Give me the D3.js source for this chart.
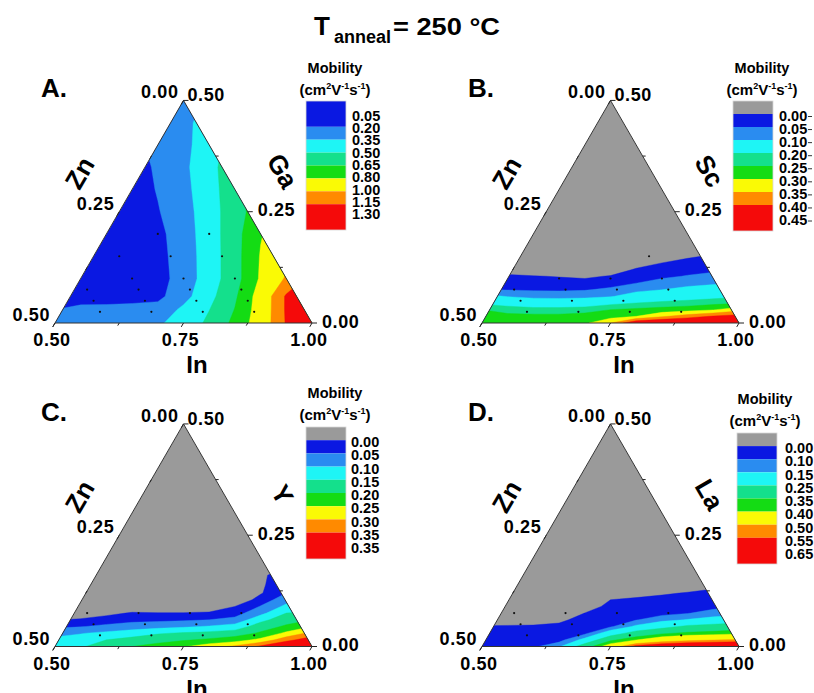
<!DOCTYPE html>
<html><head><meta charset="utf-8">
<script src="https://cdn.jsdelivr.net/npm/d3@7"></script>
<style>
body{margin:0;background:#fff;}
svg{display:block;}
text{font-family:"Liberation Sans",Arial,Helvetica,sans-serif;font-weight:bold;fill:#000;}
</style></head><body>
<svg id="chart" width="814" height="693"></svg>
<script>
// ================= DATA =================
// grid columns: horizontal position across the triangle base (0 = In 0.50 corner, 1 = In 1.00 corner)
const uCols = [0, 0.1, 0.2, 0.3, 0.4, 0.5, 0.6, 0.7, 0.8, 0.9, 1.0];

// ---- Panel A : In-Zn-Ga ----
const rowsA = [0, 0.06, 0.12, 0.2, 0.3, 0.4, 0.5, 0.6, 0.7, 0.8, 0.9, 1.0];
const gridA = [
  [0.26,0.27,0.28,0.30,0.33,0.41,0.53,0.688,0.891,1.164,1.35],
  [0.20,0.245,0.25,0.26,0.26,0.38,0.497,0.655,0.88,1.17,1.35],
  [0.12,0.12,0.12,0.13,0.16,0.30,0.455,0.626,0.875,1.17,1.35],
  [0.10,0.10,0.10,0.11,0.14,0.268,0.424,0.59,0.82,1.02,1.2],
  [0.10,0.10,0.10,0.11,0.15,0.274,0.422,0.593,0.81,0.95,1.05],
  [0.10,0.10,0.10,0.12,0.16,0.283,0.425,0.594,0.79,0.9,1.0],
  [0.10,0.10,0.10,0.12,0.19,0.297,0.425,0.594,0.72,0.8,0.9],
  [0.10,0.10,0.10,0.12,0.21,0.31,0.435,0.60,0.75,0.8,0.85],
  [0.10,0.10,0.10,0.14,0.22,0.319,0.449,0.60,0.70,0.75,0.8],
  [0.12,0.14,0.16,0.18,0.22,0.30,0.45,0.55,0.6,0.65,0.7],
  [0.15,0.17,0.19,0.22,0.26,0.32,0.40,0.5,0.55,0.6,0.65],
  [0.18,0.2,0.22,0.25,0.28,0.32,0.36,0.45,0.5,0.55,0.6]
];
const levelsA = [0.20, 0.35, 0.50, 0.65, 0.80, 1.00, 1.15];
const legendA = ["0.05","0.20","0.35","0.50","0.65","0.80","1.00","1.15","1.30"];
const dotZnA = [0.2,0.1, 0.3,0.2,0.1, 0.3,0.2,0.1, 0.4,0.3,0.2,0.1, 0.4,0.3,0.2,0.1, 0.4,0.3,0.2,0.1];
const dotGaA = [0.2,0.2, 0.15,0.15,0.15, 0.1,0.1,0.1, 0.075,0.075,0.075,0.075, 0.05,0.05,0.05,0.05, 0.025,0.025,0.025,0.025];

// ---- Panel B : In-Zn-Sc ----
const rowsB = [0, 0.03, 0.06, 0.09, 0.12, 0.15, 0.18, 0.21, 0.24, 0.27, 0.30, 0.33, 0.5, 1.0];
const gridB = [
  [0.27,0.27,0.28,0.28,0.29,0.35,0.45,0.47,0.48,0.48,0.49],
  [0.26,0.259,0.262,0.262,0.267,0.28,0.30,0.342,0.375,0.405,0.4225],
  [0.25,0.2375,0.225,0.225,0.233,0.25,0.261,0.271,0.28,0.296,0.331],
  [0.189,0.165,0.147,0.143,0.152,0.183,0.20,0.2125,0.223,0.235,0.246],
  [0.122,0.096,0.082,0.079,0.082,0.094,0.133,0.154,0.167,0.179,0.192],
  [0.05,0.047,0.044,0.043,0.046,0.059,0.083,0.099,0.117,0.131,0.144],
  [0.031,0.028,0.024,0.021,0.02,0.031,0.049,0.068,0.081,0.09,0.098],
  [0.0125,0.0084,0.003,-0.003,-0.01,0.004,0.028,0.041,0.053,0.063,0.072],
  [-0.014,-0.024,-0.036,-0.046,-0.053,-0.036,0.007,0.021,0.034,0.041,0.047],
  [-0.057,-0.067,-0.079,-0.089,-0.096,-0.079,-0.029,0,0.015,0.023,0.029],
  [-0.1,-0.1,-0.1,-0.1,-0.1,-0.1,-0.071,-0.043,-0.007,0.006,0.012],
  [-0.1,-0.1,-0.1,-0.1,-0.1,-0.1,-0.1,-0.086,-0.05,-0.029,-0.015],
  [-0.12,-0.12,-0.12,-0.12,-0.12,-0.12,-0.12,-0.12,-0.12,-0.12,-0.12],
  [-0.15,-0.15,-0.15,-0.15,-0.15,-0.15,-0.15,-0.15,-0.15,-0.15,-0.15]
];
const levelsB = [0.00, 0.05, 0.10, 0.20, 0.25, 0.30, 0.35, 0.40];
const legendB = ["0.00","0.05","0.10","0.20","0.25","0.30","0.35","0.40","0.45"];
const dotZnB = [0.1, 0.3,0.2,0.1, 0.4,0.3,0.2,0.1, 0.4,0.3,0.2,0.1, 0.4,0.3,0.2,0.1];
const dotGaB = [0.15, 0.1,0.1,0.1, 0.075,0.075,0.075,0.075, 0.05,0.05,0.05,0.05, 0.025,0.025,0.025,0.025];

// ---- Panel C : In-Zn-Y ----
const rowsC = [0, 0.03, 0.06, 0.09, 0.12, 0.15, 0.18, 0.21, 0.24, 0.28, 0.32, 0.36, 0.5, 1.0];
const gridC = [
  [0.13,0.145,0.17,0.20,0.22,0.245,0.28,0.31,0.36,0.42,0.45],
  [0.112,0.122,0.15,0.167,0.18,0.194,0.208,0.227,0.263,0.331,0.383],
  [0.084,0.097,0.111,0.125,0.145,0.155,0.163,0.173,0.207,0.261,0.316],
  [0.039,0.047,0.062,0.075,0.083,0.092,0.104,0.122,0.174,0.208,0.25],
  [-0.003,0.007,0.023,0.035,0.038,0.043,0.05,0.065,0.136,0.177,0.20],
  [-0.044,-0.036,-0.014,0.005,0.003,0.003,0.007,0.029,0.085,0.15,0.1625],
  [-0.086,-0.079,-0.057,-0.036,-0.039,-0.041,-0.036,0,0.053,0.1125,0.117],
  [-0.1,-0.1,-0.1,-0.079,-0.081,-0.085,-0.079,-0.043,0.021,0.08,0.075],
  [-0.1,-0.1,-0.1,-0.1,-0.1,-0.1,-0.1,-0.086,-0.005,0.05,0.045],
  [-0.1,-0.1,-0.1,-0.1,-0.1,-0.1,-0.1,-0.1,-0.01,0.04,0.025],
  [-0.1,-0.1,-0.1,-0.1,-0.1,-0.1,-0.1,-0.1,-0.015,0.04,0.005],
  [-0.1,-0.1,-0.1,-0.1,-0.1,-0.1,-0.1,-0.1,-0.05,0,-0.043],
  [-0.12,-0.12,-0.12,-0.12,-0.12,-0.12,-0.12,-0.12,-0.12,-0.12,-0.12],
  [-0.15,-0.15,-0.15,-0.15,-0.15,-0.15,-0.15,-0.15,-0.15,-0.15,-0.15]
];
const levelsC = [0.00, 0.05, 0.10, 0.15, 0.20, 0.25, 0.30, 0.35];
const legendC = ["0.00","0.05","0.10","0.15","0.20","0.25","0.30","0.35","0.35"];
const dotZnC = [0.4,0.3,0.2,0.1, 0.4,0.3,0.2,0.1, 0.4,0.3,0.2,0.1];
const dotGaC = [0.075,0.075,0.075,0.075, 0.05,0.05,0.05,0.05, 0.025,0.025,0.025,0.025];

// ---- Panel D : In-Zn-La ----
const rowsD = [0, 0.03, 0.06, 0.09, 0.12, 0.15, 0.18, 0.21, 0.24, 0.27, 0.30, 0.4, 0.6, 1.0];
const gridD = [
  [0.08,0.085,0.09,0.14,0.31,0.45,0.58,0.62,0.64,0.65,0.66],
  [0.055,0.059,0.063,0.079,0.172,0.333,0.397,0.452,0.48,0.494,0.508],
  [0.029,0.032,0.035,0.049,0.086,0.194,0.293,0.3375,0.3625,0.373,0.383],
  [0.004,0.006,0.008,0.018,0.058,0.092,0.163,0.218,0.267,0.288,0.314],
  [-0.033,-0.032,-0.03,-0.017,0.029,0.069,0.097,0.129,0.154,0.174,0.195],
  [-0.073,-0.073,-0.071,-0.06,0.001,0.046,0.069,0.085,0.097,0.12,0.13],
  [-0.1,-0.1,-0.1,-0.1,-0.041,0.023,0.041,0.054,0.066,0.085,0.10],
  [-0.1,-0.1,-0.1,-0.1,-0.084,0,0.012,0.023,0.036,0.053,0.067],
  [-0.1,-0.1,-0.1,-0.1,-0.1,-0.043,-0.025,-0.01,0.005,0.021,0.033],
  [-0.1,-0.1,-0.1,-0.1,-0.1,-0.086,-0.07,-0.055,-0.036,-0.014,0],
  [-0.1,-0.1,-0.1,-0.1,-0.1,-0.1,-0.1,-0.1,-0.079,-0.057,-0.043],
  [-0.1,-0.1,-0.1,-0.1,-0.1,-0.1,-0.1,-0.1,-0.1,-0.1,-0.1],
  [-0.12,-0.12,-0.12,-0.12,-0.12,-0.12,-0.12,-0.12,-0.12,-0.12,-0.12],
  [-0.15,-0.15,-0.15,-0.15,-0.15,-0.15,-0.15,-0.15,-0.15,-0.15,-0.15]
];
const levelsD = [0.00, 0.10, 0.15, 0.25, 0.35, 0.40, 0.50, 0.55];
const legendD = ["0.00","0.10","0.15","0.25","0.35","0.40","0.50","0.55","0.65"];
const dotZnD = [0.4,0.3,0.2,0.1, 0.4,0.3,0.2,0.1, 0.4,0.3,0.2,0.1];
const dotGaD = [0.075,0.075,0.075,0.075, 0.05,0.05,0.05,0.05, 0.025,0.025,0.025,0.025];

// axis tick labels
const ticksIn = [0.50, 0.75, 1.00];
const ticksZn = [0.50, 0.25, 0.00];
const ticksThird = [0.00, 0.25, 0.50];

// ================= STYLE / LAYOUT =================
const GRAY = "#9a9a9a";
const BAND = ["#0a18e2", "#2a8cf0", "#1ef5f5", "#14e08c", "#14dc14", "#fafa05", "#ff8a00", "#f50a0a"];
const SIDE = 257, H = SIDE * Math.sqrt(3) / 2;

const panels = [
  {id:"A", x0:55, y0:323, rows:rowsA, grid:gridA, levels:levelsA, legend:legendA, colors:BAND, gray:false,
   dotZn:dotZnA, dotGa:dotGaA, third:"Ga",
   lgX:306, lgTop:101, lgBot:230, lbX:352, lbRange:[115.5,214], mobX:335, mobY:72.5, unitY:94.5, dash:false},
  {id:"B", x0:482, y0:323, rows:rowsB, grid:gridB, levels:levelsB, legend:legendB, colors:[GRAY].concat(BAND), gray:true,
   dotZn:dotZnB, dotGa:dotGaB, third:"Sc",
   lgX:733, lgTop:101, lgBot:231, lbX:779, lbRange:[115.5,220], mobX:762, mobY:72.5, unitY:94.5, dash:true},
  {id:"C", x0:55, y0:646.5, rows:rowsC, grid:gridC, levels:levelsC, legend:legendC, colors:[GRAY].concat(BAND), gray:true,
   dotZn:dotZnC, dotGa:dotGaC, third:"Y",
   lgX:306, lgTop:427, lgBot:559, lbX:351, lbRange:[442,548], mobX:335, mobY:398, unitY:419.5, dash:false},
  {id:"D", x0:482, y0:646.5, rows:rowsD, grid:gridD, levels:levelsD, legend:legendD, colors:[GRAY].concat(BAND), gray:true,
   dotZn:dotZnD, dotGa:dotGaD, third:"La",
   lgX:737, lgTop:433, lgBot:564, lbX:785, lbRange:[448,554], mobX:765, mobY:404, unitY:425.5, dash:false}
];

const svg = d3.select("#chart");
const defs = svg.append("defs");
const fmt = d3.format(".2f");

// title
svg.append("text").attr("x", 314).attr("y", 35).attr("font-size", 26).text("T");
svg.append("text").attr("x", 334).attr("y", 43).attr("font-size", 18).text("anneal");
svg.append("text").attr("x", 393).attr("y", 35).attr("font-size", 24)
  .attr("textLength", 107).attr("lengthAdjust", "spacingAndGlyphs").text("= 250 °C");

panels.forEach(p => {
  const xs = d3.scaleLinear().domain([0, 1]).range([p.x0, p.x0 + SIDE]);
  const ys = d3.scaleLinear().domain([0, 1]).range([p.y0, p.y0 - H]);
  const ci = d3.scaleLinear().domain(d3.range(uCols.length)).range(uCols);
  const ri = d3.scaleLinear().domain(d3.range(p.rows.length)).range(p.rows);
  // ternary -> (u,v)
  const uv = (zn, ga) => [1 - 2 * zn - ga, 2 * ga];
  const P = (u, v) => [xs(u), ys(v)];

  const tri = `M${P(0,0)}L${P(1,0)}L${P(0.5,1)}Z`;
  defs.append("clipPath").attr("id", "clip" + p.id).append("path").attr("d", tri);

  const g = svg.append("g");
  const cg = g.append("g").attr("clip-path", `url(#clip${p.id})`);
  cg.append("path").attr("d", tri).attr("fill", p.colors[0]);

  const proj = d3.geoTransform({
    point(x, y) { this.stream.point(xs(ci(x - 0.5)), ys(ri(y - 0.5))); }
  });
  const path = d3.geoPath(proj);
  const contours = d3.contours()
    .size([uCols.length, p.rows.length])
    .thresholds(p.levels)(p.grid.flat());
  cg.selectAll("path.band").data(contours).join("path")
    .attr("class", "band").attr("d", path)
    .attr("fill", (d, i) => p.colors[i + 1]).attr("fill-rule", "evenodd")
    .attr("stroke", (d, i) => p.colors[i + 1]).attr("stroke-width", 0.4);

  // sample points
  g.selectAll("circle.pt").data(d3.range(p.dotZn.length)).join("circle")
    .attr("class", "pt")
    .attr("cx", i => xs(uv(p.dotZn[i], p.dotGa[i])[0]))
    .attr("cy", i => ys(uv(p.dotZn[i], p.dotGa[i])[1]))
    .attr("r", 1.1).attr("fill", "#111");

  // frame
  g.append("path").attr("d", tri).attr("fill", "none").attr("stroke", "#333").attr("stroke-width", 1);

  // ticks
  const tk = g.append("g").attr("stroke", "#222").attr("stroke-width", 1);
  [0.5, 0.625, 0.75, 0.875, 1.0].forEach((t, i) => {
    const [x, y] = P(2 * (t - 0.5), 0); const L = i % 2 ? 3 : 4.5;
    tk.append("line").attr("x1", x).attr("y1", y).attr("x2", x - L * 0.5).attr("y2", y + L * 0.866);
  });
  [0, 0.125, 0.25, 0.375, 0.5].forEach((z, i) => {
    const [x, y] = P(0.5 - z, 1 - 2 * z); const L = i % 2 ? 3 : 4.5;
    tk.append("line").attr("x1", x).attr("y1", y).attr("x2", x - L * 0.5).attr("y2", y + L * 0.866);
  });
  [0, 0.125, 0.25, 0.375, 0.5].forEach((ga, i) => {
    const [x, y] = P(1 - ga, 2 * ga); const L = i % 2 ? 3 : 5;
    tk.append("line").attr("x1", x).attr("y1", y).attr("x2", x + L).attr("y2", y);
  });

  // tick labels
  const tl = g.append("g").attr("font-size", 18).attr("letter-spacing", 0.6);
  ticksIn.forEach(t => {
    const [x, y] = P(2 * (t - 0.5), 0);
    tl.append("text").attr("x", x - 3).attr("y", y + 23).attr("text-anchor", "middle").text(fmt(t));
  });
  ticksZn.forEach(z => {
    const [x, y] = P(0.5 - z, 1 - 2 * z);
    tl.append("text").attr("x", x - 5).attr("y", y - 2).attr("text-anchor", "end").text(fmt(z));
  });
  ticksThird.forEach(ga => {
    const [x, y] = P(1 - ga, 2 * ga);
    tl.append("text").attr("x", x + (ga === 0.5 ? 4 : 10)).attr("y", y + (ga === 0.5 ? 1 : 4.5)).text(fmt(ga));
  });

  // axis titles
  g.append("text").attr("x", p.x0 + 142).attr("y", p.y0 + 50).attr("text-anchor", "middle")
    .attr("font-size", 24).text("In");
  g.append("text").attr("transform", `translate(${p.x0 + 24.5},${p.y0 - 150}) rotate(-60)`)
    .attr("text-anchor", "middle").attr("dy", "0.35em").attr("font-size", 26).text("Zn");
  g.append("text").attr("transform", `translate(${p.x0 + 227.5},${p.y0 - 152}) rotate(60)`)
    .attr("text-anchor", "middle").attr("dy", "0.35em").attr("font-size", 26).text(p.third);

  // panel letter
  g.append("text").attr("x", p.x0 - 14).attr("y", p.y0 - 226).attr("font-size", 26).text(p.id + ".");

  // legend
  const units = p.colors.map((c, i) => (i === p.colors.length - 1 || (i === 0 && !p.gray)) ? 2 : 1);
  const cum = [0]; units.forEach(u => cum.push(cum[cum.length - 1] + u));
  const ly = d3.scaleLinear().domain([0, cum[cum.length - 1]]).range([p.lgTop, p.lgBot]);
  const lg = g.append("g");
  p.colors.forEach((c, i) => {
    lg.append("rect").attr("x", p.lgX).attr("y", ly(cum[i])).attr("width", 40)
      .attr("height", ly(cum[i + 1]) - ly(cum[i])).attr("fill", c);
  });
  lg.append("rect").attr("x", p.lgX).attr("y", p.lgTop).attr("width", 40).attr("height", p.lgBot - p.lgTop)
    .attr("fill", "none").attr("stroke", "#d8d8d8").attr("stroke-width", 0.8);
  const lbY = d3.scaleLinear().domain([0, p.legend.length - 1]).range(p.lbRange);
  p.legend.forEach((s, i) => {
    lg.append("text").attr("x", p.lbX).attr("y", lbY(i) + 5.2).attr("font-size", 14.5).text(s);
    if (p.dash) lg.append("line").attr("x1", p.lbX + 29).attr("x2", p.lbX + 33)
      .attr("y1", lbY(i) + 1).attr("y2", lbY(i) + 1).attr("stroke", "#333");
  });
  lg.append("text").attr("x", p.mobX).attr("y", p.mobY).attr("text-anchor", "middle")
    .attr("font-size", 14.5).text("Mobility");
  const ut = lg.append("text").attr("x", p.mobX).attr("y", p.unitY).attr("text-anchor", "middle").attr("font-size", 15);
  ut.append("tspan").text("(cm");
  ut.append("tspan").attr("font-size", 9).attr("dy", -6).text("2");
  ut.append("tspan").attr("dy", 6).text("V");
  ut.append("tspan").attr("font-size", 9).attr("dy", -6).text("-1");
  ut.append("tspan").attr("dy", 6).text("s");
  ut.append("tspan").attr("font-size", 9).attr("dy", -6).text("-1");
  ut.append("tspan").attr("dy", 6).text(")");
});
</script>
</body></html>
